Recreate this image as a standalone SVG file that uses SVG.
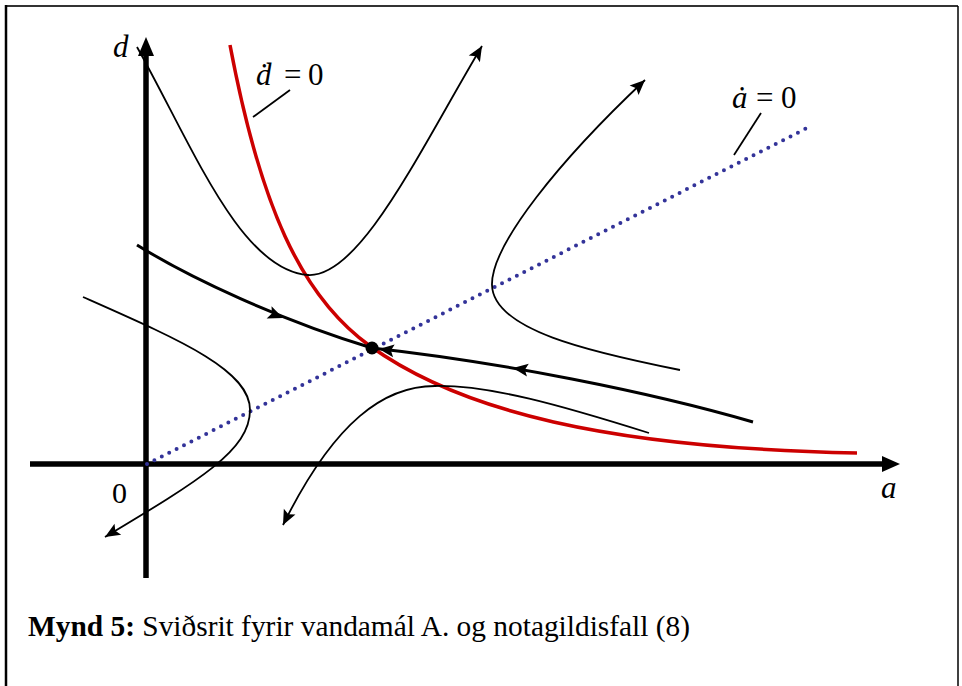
<svg xmlns="http://www.w3.org/2000/svg" width="962" height="686" viewBox="0 0 962 686">
<style>
.thin{fill:none;stroke:#000;stroke-width:1.8}
.thick{fill:none;stroke:#000;stroke-width:3}
.axis{fill:none;stroke:#000;stroke-width:5.5}
text{font-family:'Liberation Serif','Times New Roman','DejaVu Serif',serif}
</style>
<defs>
<marker id="ah" markerUnits="userSpaceOnUse" markerWidth="20" markerHeight="16" viewBox="-16 -8 18 16" refX="0" refY="0" orient="auto">
<path d="M0,0 L-15,-6.5 L-12,0 L-15,6.5 Z" fill="#000"/>
</marker>
<path id="head" d="M0,0 L-15,-6.5 L-12,0 L-15,6.5 Z" fill="#000"/>
</defs>
<rect width="962" height="686" fill="#fff"/>
<g id="frame">
<path d="M6,6 H958" stroke="#333" stroke-width="2" fill="none"/>
<path d="M6,5 V686" stroke="#000" stroke-width="2.5" fill="none"/>
<path d="M958,6 V686" stroke="#000" stroke-width="1.5" fill="none"/>
</g>
<g id="axes">
<path class="axis" d="M146,578 V52"/>
<polygon points="146,37 138,56 154,56" fill="#000"/>
<path class="axis" d="M30,464 H886"/>
<polygon points="900,464 882,456 882,472" fill="#000"/>
</g>
<g id="a-nullcline">
<path d="M147,464 L807,128" fill="none" stroke="#333399" stroke-width="4" stroke-linecap="round" stroke-dasharray="0 8.3"/>
</g>
<g id="d-nullcline">
<path d="M230,45 C260,204 300,295.6 370,346 C460,410.8 607,448 857,453" fill="none" stroke="#cc0000" stroke-width="3.5"/>
</g>
<g id="trajectories">
<path class="thin" d="M137,47 C192,145 240,270 308,275 C360,278 420,150 482,46" marker-end="url(#ah)"/>
<path class="thin" d="M680,370 C590,352 493,330 492,285 C491,245 560,160 645,80" marker-end="url(#ah)"/>
<path class="thin" d="M83,297 C180,340 250,370 250,410 C250,450 200,480 105,537" marker-end="url(#ah)"/>
<path class="thin" d="M649,433 C560,405 490,385 435,386 C385,386 335,420 283,525" marker-end="url(#ah)"/>
<path class="thick" d="M137,245 C190,278 280,320 372,348"/>
<path class="thick" d="M753,422 C650,392 500,362 372,348"/>
<use href="#head" transform="translate(283,318) rotate(22)"/>
<use href="#head" transform="translate(379,349) rotate(187)"/>
<use href="#head" transform="translate(513,368) rotate(188)"/>
</g>
<g id="equilibrium">
<circle cx="372" cy="348" r="6.5" fill="#000"/>
</g>
<g id="labels">
<text x="113" y="57" font-family="Liberation Serif, serif" font-size="31" font-style="italic">d</text>
<text x="112" y="503" font-family="Liberation Serif, serif" font-size="30">0</text>
<text x="881" y="498" font-family="Liberation Serif, serif" font-size="31" font-style="italic">a</text>
<text x="256" y="85" font-family="Liberation Serif, serif" font-size="31"><tspan font-style="italic">ḋ</tspan><tspan x="284">=</tspan><tspan x="308">0</tspan></text>
<path class="thin" d="M253,117 L290,90" stroke-width="1.5"/>
<text x="732" y="108" font-family="Liberation Serif, serif" font-size="31"><tspan font-style="italic">ȧ</tspan><tspan x="756">=</tspan><tspan x="781">0</tspan></text>
<path class="thin" d="M734,155 L761,113" stroke-width="1.5"/>
</g>
<g id="caption">
<text x="28" y="636" font-family="Liberation Serif, serif" font-size="29.4"><tspan font-weight="bold">Mynd 5:</tspan> Sviðsrit fyrir vandamál A. og notagildisfall (8)</text>
</g>
</svg>
